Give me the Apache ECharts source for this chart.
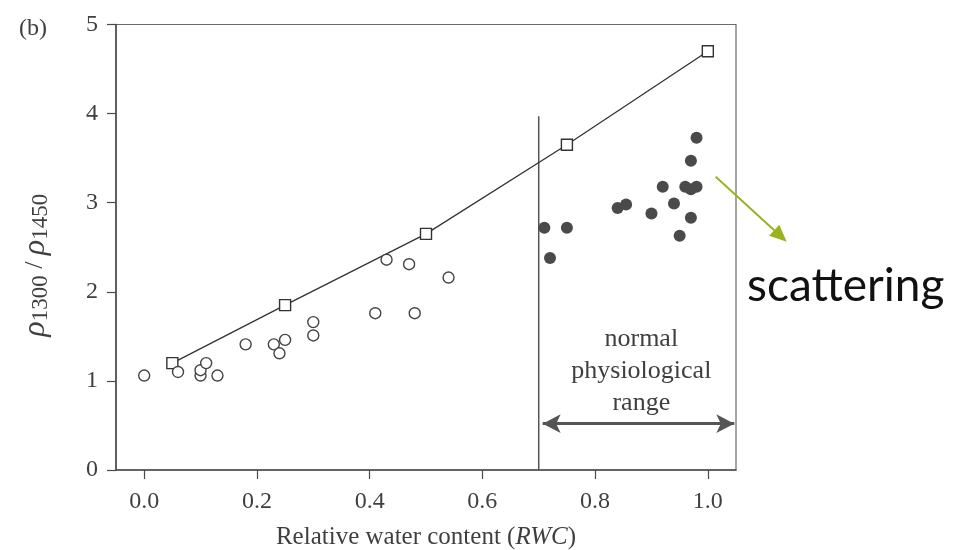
<!DOCTYPE html>
<html>
<head>
<meta charset="utf-8">
<script src="https://cdn.jsdelivr.net/npm/echarts@6/dist/echarts.min.js"></script>
<style>html,body{margin:0;padding:0;background:#fff}#c{width:963px;height:550px}</style>
</head>
<body>
<div id="c"></div>
<script>
// Data
const xTicks = [0.0, 0.2, 0.4, 0.6, 0.8, 1.0];
const yTicks = [0, 1, 2, 3, 4, 5];
// Model curve (open squares joined by a line)
const modelX = [0.05, 0.25, 0.50, 0.75, 1.00];
const modelY = [1.20, 1.85, 2.65, 3.65, 4.70];
// Measured, dehydrated leaves (open circles)
const openX = [0.00, 0.06, 0.10, 0.10, 0.11, 0.13, 0.18, 0.23, 0.24, 0.25, 0.30, 0.30, 0.41, 0.43, 0.47, 0.48, 0.54];
const openY = [1.06, 1.10, 1.06, 1.12, 1.20, 1.06, 1.41, 1.41, 1.31, 1.46, 1.66, 1.51, 1.76, 2.36, 2.31, 1.76, 2.16];
// Measured, normal physiological range (filled circles)
const fillX = [0.71, 0.75, 0.72, 0.84, 0.855, 0.90, 0.92, 0.94, 0.95, 0.96, 0.97, 0.98, 0.97, 0.98, 0.97];
const fillY = [2.72, 2.72, 2.38, 2.94, 2.98, 2.88, 3.18, 2.99, 2.63, 3.18, 3.15, 3.18, 3.47, 3.73, 2.83];
// Boundary of the normal physiological range
const rangeStart = 0.70;
const rangeLineTop = 3.97;
const arrowFrom = [0.707, 0.52];
const arrowTo = [1.047, 0.52];
const rangeLabelPos = [0.882, 1.11];
const rangeLabel = 'normal\nphysiological\nrange';

const zip = (a, b) => a.map((v, i) => [v, b[i]]);
const serif = '"Liberation Serif", "DejaVu Serif", serif';
const txt = '#3f3f3f';

const chart = echarts.init(document.getElementById('c'));
chart.setOption({
  backgroundColor: '#ffffff',
  animation: false,
  grid: { left: 116, right: 227, top: 24.5, bottom: 80, outerBoundsMode: 'none', containLabel: false, show: true, borderColor: '#6a6a6a', borderWidth: 1.2, backgroundColor: 'transparent' },
  xAxis: {
    type: 'value', min: -0.05, max: 1.05,
    splitLine: { show: false },
    axisLine: { onZero: false, lineStyle: { color: '#4a4a4a', width: 1.5 } },
    axisTick: { show: true, customValues: xTicks, length: 9, inside: false, lineStyle: { color: '#4a4a4a', width: 1.2 } },
    axisLabel: { customValues: xTicks, formatter: v => v.toFixed(1), fontFamily: serif, fontSize: 24, color: txt, margin: 20 },
    name: '{t|Relative water content (}{i|RWC}{t|)}',
    nameLocation: 'middle', nameGap: 55,
    nameTextStyle: { rich: {
      t: { fontFamily: serif, fontSize: 25, color: txt },
      i: { fontFamily: serif, fontSize: 25, color: txt, fontStyle: 'italic' }
    } }
  },
  yAxis: {
    type: 'value', min: 0, max: 5, interval: 1,
    splitLine: { show: false },
    axisLine: { show: true, onZero: false, lineStyle: { color: '#4a4a4a', width: 1.5 } },
    axisTick: { show: true, length: 9, lineStyle: { color: '#4a4a4a', width: 1.2 } },
    axisLabel: { formatter: v => String(v), fontFamily: serif, fontSize: 24, color: txt, margin: 18 },
    name: '{p|ρ}{s|1300}{n| / }{p|ρ}{s|1450}',
    nameLocation: 'middle', nameGap: 64, nameRotate: 90,
    nameTextStyle: { padding: [0, 36, 0, 0], rich: {
      p: { fontFamily: serif, fontSize: 32, fontStyle: 'italic', color: txt, verticalAlign: 'middle' },
      s: { fontFamily: serif, fontSize: 23, color: txt, verticalAlign: 'bottom', padding: [10, 0, 0, 0] },
      n: { fontFamily: serif, fontSize: 26, color: txt, verticalAlign: 'middle' }
    } }
  },
  series: [
    {
      type: 'line', data: zip(modelX, modelY),
      symbol: 'rect', symbolSize: 11, showSymbol: true,
      lineStyle: { color: '#333', width: 1.3 },
      itemStyle: { color: '#ffffff', borderColor: '#333', borderWidth: 1.4, opacity: 1 },
      z: 3
    },
    {
      type: 'scatter', data: zip(openX, openY),
      symbol: 'circle', symbolSize: 11,
      itemStyle: { color: '#ffffff', borderColor: '#444', borderWidth: 1.4, opacity: 1 },
      z: 4
    },
    {
      type: 'scatter', data: zip(fillX, fillY),
      symbol: 'circle', symbolSize: 12,
      itemStyle: { color: '#4a4a4a', borderWidth: 0, opacity: 1 },
      z: 4
    },
    {
      type: 'line', data: [[rangeStart, 0], [rangeStart, rangeLineTop]],
      symbol: 'none', lineStyle: { color: '#555', width: 1.5 },
      silent: true, z: 2,
      markLine: {
        silent: true, symbol: ['arrow', 'arrow'], symbolSize: [14, 18],
        label: { show: false },
        lineStyle: { color: '#555', width: 3, type: 'solid' },
        data: [[{ coord: arrowFrom }, { coord: arrowTo }]]
      }
    },
    {
      type: 'scatter', data: [rangeLabelPos], symbolSize: 0, silent: true,
      itemStyle: { opacity: 1 },
      label: { show: true, position: 'inside', formatter: rangeLabel, fontFamily: serif, fontSize: 26, lineHeight: 32, color: txt, align: 'center' }
    }
  ],
  graphic: [
    { type: 'text', left: 19, top: 17, style: { text: '(b)', fontFamily: serif, fontSize: 24, fill: txt } },
    { type: 'text', x: 747, y: 286, style: { text: 'scattering', fontFamily: 'Lato, "Open Sans", sans-serif', fontSize: 46, fill: '#111', verticalAlign: 'middle', align: 'left' } },
    { type: 'line', shape: { x1: 715.7, y1: 176.7, x2: 774.2, y2: 230.2 }, style: { stroke: '#9bb21f', lineWidth: 2 } },
    { type: 'polygon', shape: { points: [[786.7, 241.7], [779.3, 224.7], [769.1, 235.7]] }, style: { fill: '#9bb21f' } }
  ]
});
</script>
</body>
</html>
